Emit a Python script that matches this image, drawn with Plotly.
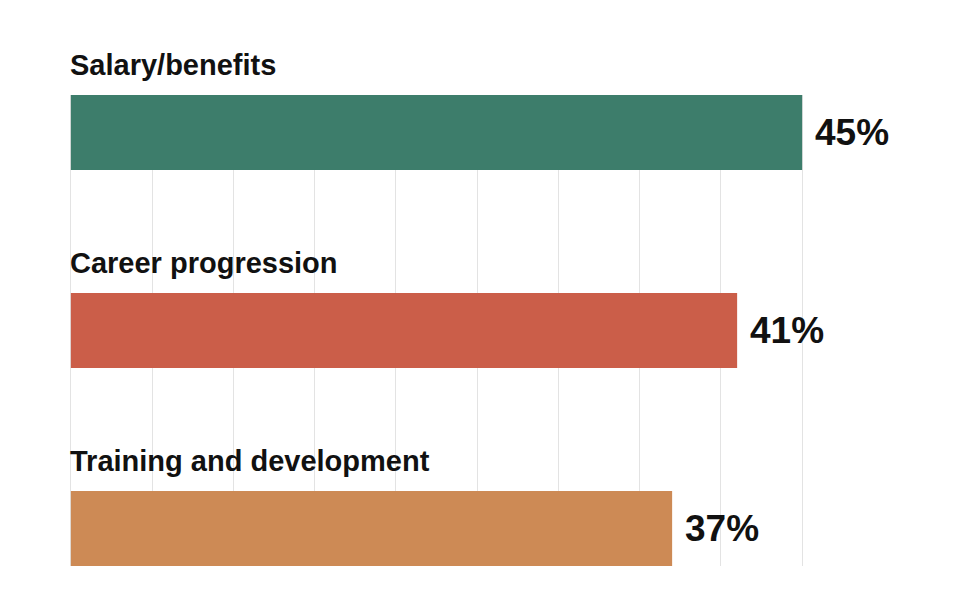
import plotly.graph_objects as go

categories = ['Salary/benefits', 'Career progression', 'Training and development']
values = [45, 41, 37]
colors = ['#3d7d6b', '#cb5e49', '#cd8a55']

positions = list(range(len(categories)))

fig = go.Figure()
fig.add_trace(go.Bar(
    x=values,
    y=positions,
    orientation='h',
    width=0.379,
    marker=dict(color=colors, line=dict(width=0)),
    hoverinfo='skip',
))

# category names above each bar (anchored inside the range, pushed up with yshift)
for i, cat in enumerate(categories):
    fig.add_annotation(x=0, y=i - 0.15, xref='x', yref='y', text='<b>' + cat + '</b>',
                       showarrow=False, xanchor='left', yanchor='middle', xshift=-3, yshift=38,
                       font=dict(family='Liberation Sans, Arial', size=29, color='#111111'))

# value labels to the right
for i, v in enumerate(values):
    fig.add_annotation(x=v, y=i, xref='x', yref='y', text='<b>' + str(v) + '%</b>',
                       showarrow=False, xanchor='left', yanchor='middle', xshift=11,
                       font=dict(family='Liberation Sans, Arial', size=37, color='#111111'))

fig.update_xaxes(range=[-0.3, 45.3], dtick=5, tick0=0, showgrid=True, gridcolor='#e3e3e3',
                 gridwidth=1, zeroline=False, showticklabels=False, showline=False)
fig.update_yaxes(range=[2.189, -0.189], showgrid=False, zeroline=False,
                 showticklabels=False, showline=False)
fig.update_layout(
    width=960, height=616,
    margin=dict(l=58, r=161, t=87, b=58),
    plot_bgcolor='white', paper_bgcolor='white',
    showlegend=False,
)

fig.write_html("out.html")
